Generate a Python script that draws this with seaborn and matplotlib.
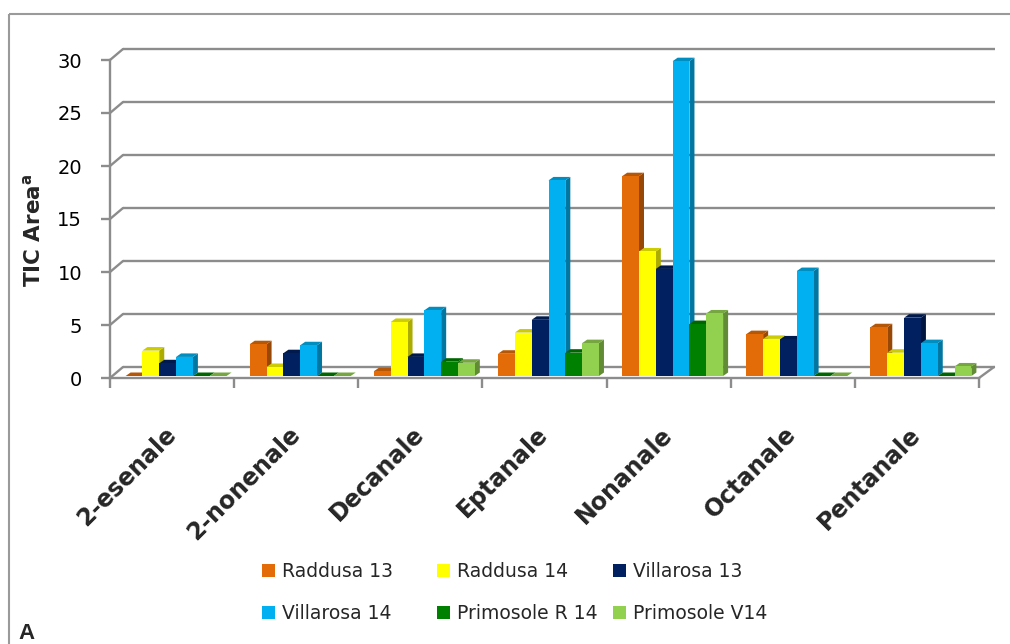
import numpy as np
import pandas as pd
import matplotlib
matplotlib.use("Agg")
import matplotlib.pyplot as plt
import matplotlib.transforms as mtransforms
from matplotlib.patches import Polygon, Patch
from matplotlib.lines import Line2D
from matplotlib.colors import to_rgb
import seaborn as sns

# ---- data -------------------------------------------------------------
compounds = ["2-esenale", "2-nonenale", "Decanale", "Eptanale",
             "Nonanale", "Octanale", "Pentanale"]
samples = ["Raddusa 13", "Raddusa 14", "Villarosa 13",
           "Villarosa 14", "Primosole R 14", "Primosole V14"]

raddusa_13 = [0.0, 3.0, 0.45, 2.1, 18.85, 3.95, 4.6]
raddusa_14 = [2.4, 0.85, 5.1, 4.1, 11.75, 3.5, 2.2]
villarosa_13 = [1.2, 2.15, 1.8, 5.3, 10.1, 3.45, 5.5]
villarosa_14 = [1.8, 2.9, 6.2, 18.45, 29.7, 9.9, 3.1]
primosole_r_14 = [0.0, 0.0, 1.35, 2.2, 4.9, 0.0, 0.0]
primosole_v14 = [0.0, 0.0, 1.25, 3.1, 5.9, 0.0, 0.9]

colors = ["#E36C09", "#FFFF00", "#002060", "#00B0F0", "#008000", "#92D050"]
y_ticks = [0, 5, 10, 15, 20, 25, 30]

series = [raddusa_13, raddusa_14, villarosa_13,
          villarosa_14, primosole_r_14, primosole_v14]
df = pd.DataFrame({
    "compound": np.tile(compounds, len(samples)),
    "sample": np.repeat(samples, len(compounds)),
    "area": np.concatenate(series),
})

# ---- style ------------------------------------------------------------
sns.set_style("white")
plt.rcParams["font.family"] = ["DejaVu Sans"]

GRID = "#8C8C8C"
LW = 1.7

W, H = 1010, 644
fig = plt.figure(figsize=(W / 100, H / 100), dpi=100)
ax = fig.add_axes([110 / W, 1 - 378 / H, 869 / W, 318 / H])

GROUP_W = 0.813
sns.barplot(data=df, x="compound", y="area", hue="sample",
            order=compounds, hue_order=samples, palette=colors,
            width=GROUP_W, saturation=1, dodge=True, linewidth=0,
            errorbar=None, legend=False, ax=ax)

ax.set_xlim(-0.5, 6.5)
ax.set_ylim(0, 30)

# pixel -> data units
ux = 7 / 869
uy = 30 / 318

# 3D look: front faces sit slightly behind the floor edge,
# each column gets a shaded top and right side
shift = mtransforms.ScaledTranslation(4 / 100, 2 / 100, fig.dpi_scale_trans)
bar_tr = ax.transData + shift
dx, dy = 5 * ux, 3.5 * uy


def shade(c, f):
    r, g, b = to_rgb(c)
    return (r * f, g * f, b * f)


for p in list(ax.patches):
    x0, w, h = p.get_x(), p.get_width(), p.get_height()
    xc = x0 + w / 2
    cat = round(xc)
    k = int(round((xc - cat + GROUP_W / 2 - w / 2) / w))
    k = max(0, min(k, len(colors) - 1))
    col = colors[k]
    z = 3 + 0.1 * k
    p.set_transform(bar_tr)
    p.set_zorder(z + 0.05)
    p.set_clip_on(False)
    x1 = x0 + w
    side = Polygon([(x1, 0), (x1 + dx, dy), (x1 + dx, h + dy), (x1, h)],
                   closed=True, facecolor=shade(col, 0.67), edgecolor="none",
                   transform=bar_tr, zorder=z + 0.01, clip_on=False)
    top = Polygon([(x0, h), (x0 + dx, h + dy), (x1 + dx, h + dy), (x1, h)],
                  closed=True, facecolor=shade(col, 0.8), edgecolor="none",
                  transform=bar_tr, zorder=z + 0.02, clip_on=False)
    ax.add_patch(side)
    ax.add_patch(top)

# back wall gridlines and left-side connectors
gx0 = -0.5 + 13 * ux
gx1 = 6.5 + 16 * ux
for v in y_ticks:
    yb = v + 11 * uy
    ax.plot([gx0, gx1], [yb, yb], color=GRID, lw=LW, clip_on=False,
            zorder=1, solid_capstyle="butt")
    ax.plot([-0.5, gx0], [v, yb], color=GRID, lw=LW, clip_on=False, zorder=1)
# right edge of the floor
ax.plot([6.5, 6.5 + 15 * ux], [0, 11 * uy], color=GRID, lw=LW,
        clip_on=False, zorder=1)

# axes, ticks, labels
for s in ["top", "right"]:
    ax.spines[s].set_visible(False)
for s in ["left", "bottom"]:
    ax.spines[s].set_color(GRID)
    ax.spines[s].set_linewidth(LW)
    ax.spines[s].set_zorder(2)

ax.set_yticks(y_ticks)
ax.tick_params(axis="y", length=6.5, width=LW, color=GRID, pad=13.5,
               labelsize=14, labelcolor="black", left=True)
ax.set_xticks(range(len(compounds)))
ax.set_xticklabels(compounds, rotation=45, ha="right", va="center",
                   rotation_mode="anchor", fontweight="bold", fontsize=17)
ax.tick_params(axis="x", which="major", length=0, pad=38)
ax.set_xticks(np.arange(-0.5, 7, 1), minor=True)
ax.tick_params(axis="x", which="minor", length=7.2, width=LW, color=GRID,
               direction="out", bottom=True)
ax.set_xlabel("")
ax.set_ylabel("")

fig.text(33 / W, 1 - 230 / H, "TIC Area$^{\\mathbf{a}}$", rotation=90,
         ha="center", va="center", fontsize=15.5, fontweight="bold")

# outer chart frame
FRAME = "#9A9A9A"
fig.add_artist(Line2D([9 / W, 9 / W], [0, 1 - 14 / H], color=FRAME, lw=1.5,
                      transform=fig.transFigure, solid_capstyle="butt"))
fig.add_artist(Line2D([9 / W, 1], [1 - 14 / H, 1 - 14 / H], color=FRAME,
                      lw=1.5, transform=fig.transFigure, solid_capstyle="butt"))

fig.text(18 / W, 0.0, "A", fontsize=16, fontweight="bold",
         family="Liberation Sans", va="bottom", ha="left")

# legend: three equal-width columns, two rows
legend_cols = [(262, [0, 3]), (437, [1, 4]), (613, [2, 5])]
for x, idx in legend_cols:
    handles = [Patch(facecolor=colors[i], edgecolor="none") for i in idx]
    fig.legend(handles, [samples[i] for i in idx], loc="upper left",
               bbox_to_anchor=(x / W, 1 - 562 / H), frameon=False,
               borderpad=0, borderaxespad=0, handlelength=0.7,
               handleheight=0.7, handletextpad=0.38, labelspacing=1.22,
               prop={"family": "DejaVu Sans", "size": 13.5})

fig.savefig("out.png", dpi=100)
